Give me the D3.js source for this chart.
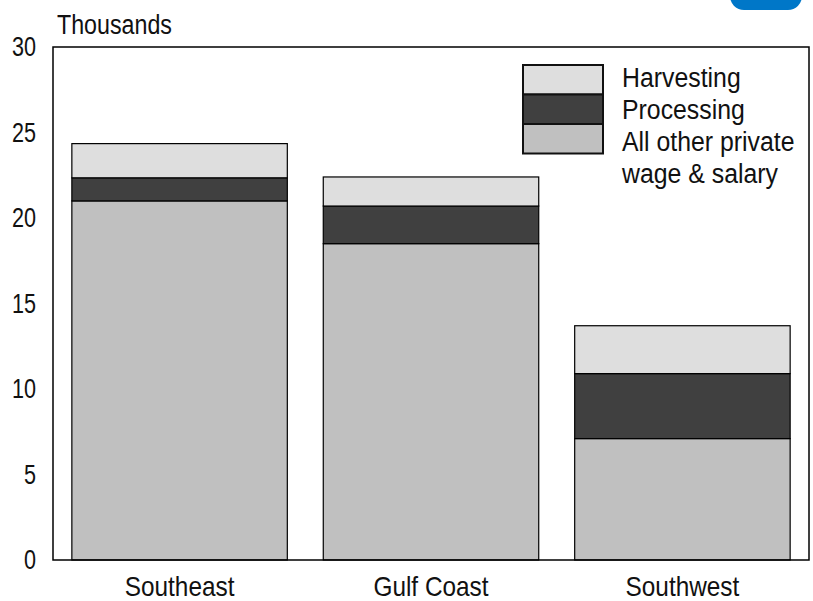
<!DOCTYPE html>
<html>
<head>
<meta charset="utf-8">
<script src="https://cdn.jsdelivr.net/npm/d3@7"></script>
<style>
  html, body { margin: 0; padding: 0; background: #fff; }
  svg text { font-family: "Liberation Sans", Arial, sans-serif; fill: #111; }
</style>
</head>
<body>
<div id="chart"></div>
<script>
'use strict';

// Employment by region, thousands
const regions = ['Southeast', 'Gulf Coast', 'Southwest'];
const otherWage = [21.0, 18.5, 7.1];
const processing = [1.35, 2.2, 3.8];
const harvesting = [2.0, 1.7, 2.8];
const seriesKeys = ['other', 'processing', 'harvesting'];
const legendLabels = [['Harvesting'], ['Processing'], ['All other private', 'wage & salary']];
const yTicks = [0, 5, 10, 15, 20, 25, 30];

const COLORS = { harvesting: '#dedede', processing: '#404040', other: '#c0c0c0' };

const W = 813, H = 601;
const M = { left: 53, right: 809, top: 47, bottom: 560 };

const rows = regions.map((r, i) => ({
    region: r, other: otherWage[i], processing: processing[i], harvesting: harvesting[i]
}));
const stacked = d3.stack().keys(seriesKeys)(rows);

const svg = d3.select('#chart').append('svg')
    .attr('width', W).attr('height', H);

const x = d3.scaleBand().domain(regions).range([M.left, M.right])
    .paddingInner(0.143).paddingOuter(0.075);
const y = d3.scaleLinear().domain([0, 30]).range([M.bottom, M.top]);

// condensed look: squeeze text horizontally around its anchor point
const squeeze = (ax, s) => `translate(${ax},0) scale(${s},1) translate(${-ax},0)`;

// logo blob peeking in at the top right
svg.append('rect').attr('x', 730).attr('y', -30).attr('width', 72).attr('height', 40)
    .attr('rx', 14).attr('fill', '#0077c8');

// bars
svg.append('g').selectAll('g')
    .data(stacked)
    .join('g')
    .attr('fill', d => COLORS[d.key])
    .selectAll('rect')
    .data(d => d)
    .join('rect')
    .attr('x', d => x(d.data.region))
    .attr('width', x.bandwidth())
    .attr('y', d => y(d[1]))
    .attr('height', d => y(d[0]) - y(d[1]))
    .attr('stroke', '#000').attr('stroke-width', 1.2);

// plot frame
svg.append('rect').attr('x', M.left).attr('y', M.top)
    .attr('width', M.right - M.left).attr('height', M.bottom - M.top)
    .attr('fill', 'none').attr('stroke', '#000').attr('stroke-width', 1.5);

// y axis labels
const yAxis = d3.axisLeft(y).tickValues(yTicks).tickSize(0).tickPadding(17);
const yg = svg.append('g').attr('transform', `translate(${M.left},0)`).call(yAxis);
yg.select('.domain').remove();
yg.selectAll('text').attr('font-size', 27).attr('fill', '#111')
    .style('font-family', '"Liberation Sans", Arial, sans-serif')
    .attr('transform', squeeze(-17, 0.8));

svg.append('text').attr('x', 57).attr('y', 34).attr('font-size', 28)
    .attr('transform', squeeze(57, 0.83)).text('Thousands');

// x axis labels
const xAxis = d3.axisBottom(x).tickSize(0).tickPadding(16);
const xg = svg.append('g').attr('transform', `translate(0,${M.bottom})`).call(xAxis);
xg.select('.domain').remove();
xg.selectAll('text').attr('font-size', 28).attr('fill', '#111')
    .style('font-family', '"Liberation Sans", Arial, sans-serif')
    .attr('transform', 'scale(0.87,1)');

// legend
const legendKeys = ['harvesting', 'processing', 'other'];
const lg = svg.append('g');
legendKeys.forEach((k, i) => {
    lg.append('rect').attr('x', 523).attr('y', 65 + i * 29.5)
        .attr('width', 80).attr('height', 29.5)
        .attr('fill', COLORS[k]).attr('stroke', '#111').attr('stroke-width', 2);
});
let line = 0;
legendLabels.forEach(lines => {
    lines.forEach(t => {
        lg.append('text').attr('x', 622).attr('y', 87 + line * 32)
            .attr('font-size', 27).attr('transform', squeeze(622, 0.92)).text(t);
        line++;
    });
});
</script>
</body>
</html>
